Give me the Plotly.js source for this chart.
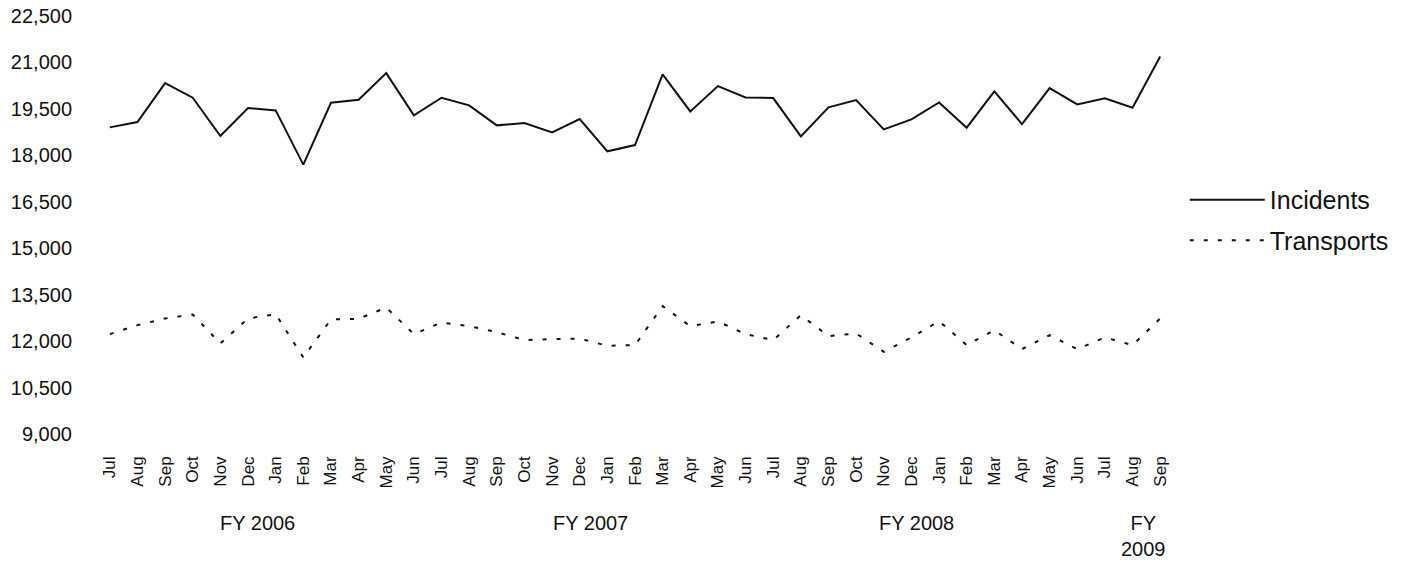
<!DOCTYPE html>
<html>
<head>
<meta charset="utf-8">
<script src="https://cdn.plot.ly/plotly-3.0.1.min.js"></script>
<style>html,body{margin:0;padding:0;background:#fff;}#chart{width:1414px;height:565px;}</style>
</head>
<body>
<div id="chart"></div>
<script>
const months = ["Jul","Aug","Sep","Oct","Nov","Dec","Jan","Feb","Mar","Apr","May","Jun",
                "Jul","Aug","Sep","Oct","Nov","Dec","Jan","Feb","Mar","Apr","May","Jun",
                "Jul","Aug","Sep","Oct","Nov","Dec","Jan","Feb","Mar","Apr","May","Jun",
                "Jul","Aug","Sep"];
const fiscalYears = ["FY 2006","FY 2007","FY 2008","FY<br>2009"];
const incidents = [18903,19075,20333,19860,18624,19526,19452,17699,19699,19796,20655,19290,
                   19860,19613,18968,19042,18742,19172,18129,18333,20613,19419,20236,19871,
                   19850,18613,19548,19784,18839,19161,19710,18893,20065,19010,20172,19645,
                   19839,19538,21194];
const transports = [12225,12516,12731,12860,11924,12731,12870,11473,12699,12720,13086,12225,
                    12602,12483,12290,12032,12064,12080,11849,11870,13129,12483,12634,12225,
                    12032,12838,12161,12247,11655,12120,12645,11870,12354,11741,12193,11741,
                    12118,11870,12731];
const yTicks = [9000,10500,12000,13500,15000,16500,18000,19500,21000,22500];

const idx = months.map((m, i) => i);
const font = "Liberation Sans, Arial, sans-serif";

const traces = [
  {x: idx, y: incidents, name: "Incidents", legendgroup: "a", type: "scatter", mode: "lines",
   line: {color: "#111", width: 2}},
  {x: idx, y: transports, name: "Transports", legendgroup: "b", type: "scatter", mode: "lines",
   line: {color: "#111", width: 2, dash: "4px,10px"}}
];

const fyX = [5.35, 17.4, 29.2, 37.4];
const annotations = fiscalYears.map((t, i) => ({
  text: t, x: fyX[i], xref: "x", y: -0.183, yref: "paper", yanchor: "top",
  xanchor: "center", showarrow: false, align: "center",
  font: {family: font, size: 20, color: "#111"}
}));

const layout = {
  width: 1414, height: 565,
  margin: {l: 96, r: 240, t: 16, b: 131},
  paper_bgcolor: "#fff", plot_bgcolor: "#fff",
  font: {family: font, color: "#111"},
  xaxis: {
    range: [-0.5, 38.5], tickmode: "array", tickvals: idx, ticktext: months,
    tickangle: -90, showgrid: false, zeroline: false, showline: false, ticks: "",
    ticklabelstandoff: 18,
    tickfont: {family: font, size: 17, color: "#111"}
  },
  yaxis: {
    range: [9000, 22500], tickmode: "array", tickvals: yTicks,
    ticktext: yTicks.map(v => v.toLocaleString("en-US")),
    showgrid: false, zeroline: false, showline: false, ticks: "",
    ticklabelstandoff: 23,
    tickfont: {family: font, size: 20, color: "#111"}
  },
  showlegend: true,
  legend: {
    x: 1.01, xanchor: "left", y: 0.615, yanchor: "top",
    font: {family: font, size: 25, color: "#111"},
    bgcolor: "rgba(0,0,0,0)", tracegroupgap: 5, itemwidth: 75
  },
  annotations: annotations
};

Plotly.newPlot("chart", traces, layout, {displayModeBar: false, staticPlot: true});
</script>
</body>
</html>
